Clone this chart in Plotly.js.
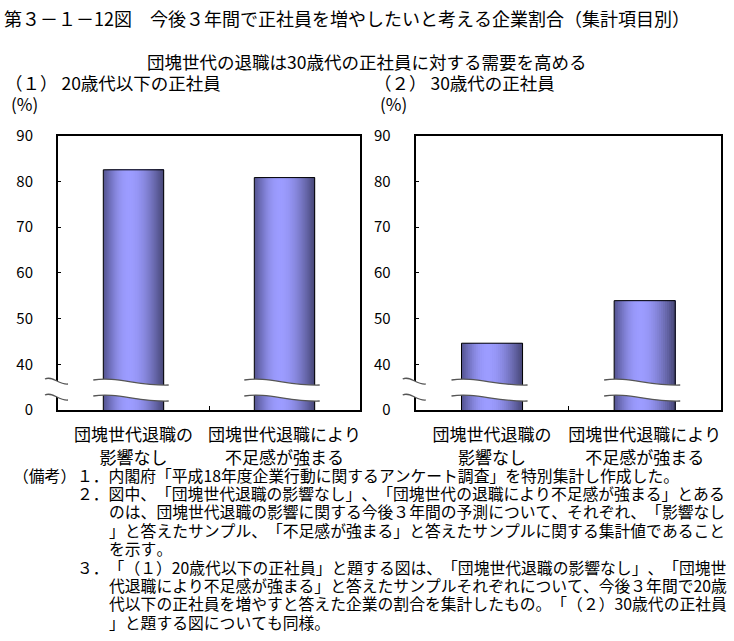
<!DOCTYPE html>
<html>
<head>
<meta charset="utf-8">
<script src="https://cdn.plot.ly/plotly-3.0.1.min.js"></script>
<style>
  html, body { margin: 0; padding: 0; background: #fff; }
  #chart { width: 734px; height: 641px; }
  svg, text, tspan { text-spacing-trim: space-all; font-kerning: none; }
</style>
</head>
<body>
<div id="chart"></div>
<script>
// ---- data ----
const categories = ['団塊世代退職の<br>影響なし', '団塊世代退職により<br>不足感が強まる'];
const under20Values = [82.5, 80.8];   // (1) 20歳代以下の正社員
const age30sValues = [44.6, 53.9];    // (2) 30歳代の正社員
const yTickValues = [30, 40, 50, 60, 70, 80, 90];
const yTickLabels = ['0', '40', '50', '60', '70', '80', '90'];

const chartTitle = '第３－１－12図　今後３年間で正社員を増やしたいと考える企業割合（集計項目別）';
const subTitle = '団塊世代の退職は30歳代の正社員に対する需要を高める';
const panel1Title = '（１） 20歳代以下の正社員';
const panel2Title = '（２） 30歳代の正社員';
const unitLabel = '(%)';
const notesHead = '（備考）';
const notes = [
  '１．内閣府「平成18年度企業行動に関するアンケート調査」を特別集計し作成した。',
  '２．図中、「団塊世代退職の影響なし」、「団塊世代の退職により不足感が強まる」とある',
  'のは、団塊世代退職の影響に関する今後３年間の予測について、それぞれ、「影響なし',
  '」と答えたサンプル、「不足感が強まる」と答えたサンプルに関する集計値であること',
  'を示す。',
  '３．「（１）20歳代以下の正社員」と題する図は、「団塊世代退職の影響なし」、「団塊世',
  '代退職により不足感が強まる」と答えたサンプルそれぞれについて、今後３年間で20歳',
  '代以下の正社員を増やすと答えた企業の割合を集計したもの。「（２）30歳代の正社員',
  '」と題する図についても同様。'
];
const noteIndent = [76, 76, 108, 108, 108, 76, 108, 108, 108];

// ---- layout geometry (pixels) ----
const W = 734, H = 641;
const FONT = '"Noto Sans CJK JP", "Noto Sans", sans-serif';
const plotTop = 135.5, plotBottom = 410;
const panels = [
  { left: 58, right: 360, values: under20Values, xa: 'x', ya: 'y' },
  { left: 415.7, right: 721, values: age30sValues, xa: 'x2', ya: 'y2' }
];
const barWidth = 0.4;
const N = 30;

function px(x) { return x / W; }
function py(y) { return 1 - y / H; }

function mix(a, b, s) {
  return 'rgb(' + a.map((v, i) => Math.round(v + (b[i] - v) * s)).join(',') + ')';
}
function shade(t) {
  const peak = 0.42;
  const light = [156, 156, 255];
  if (t < peak) {
    const s = Math.sin((t / peak) * Math.PI / 2);
    return mix([82, 82, 142], light, s);
  } else {
    const s = Math.sin(((1 - t) / (1 - peak)) * Math.PI / 2);
    return mix([70, 70, 118], light, s);
  }
}

const traces = [];
panels.forEach(p => {
  for (let i = 0; i < N; i++) {
    traces.push({
      type: 'bar', x: categories, y: p.values, xaxis: p.xa, yaxis: p.ya,
      width: barWidth * (1 - i / N), offset: -barWidth / 2 + i * barWidth / N,
      marker: { color: shade((i + 0.5) / N), line: { width: 0 } },
      hoverinfo: 'skip', showlegend: false
    });
  }
  traces.push({
    type: 'bar', x: categories, y: p.values, xaxis: p.xa, yaxis: p.ya,
    width: barWidth, offset: -barWidth / 2,
    marker: { color: 'rgba(0,0,0,0)', line: { width: 1, color: '#000' } },
    hoverinfo: 'skip', showlegend: false
  });
});

// ---- break marks (decoration) ----
function wave(x0, x1, yA, yB) {
  const w = x1 - x0;
  return { M: [x0, yA], C: [[x0 + 0.3 * w, yA - 4], [x0 + 0.6 * w, yB + 1], [x1, yB]] };
}
function waveStr(wv) {
  const c = wv.C;
  return 'M ' + px(wv.M[0]) + ',' + py(wv.M[1]) +
    ' C ' + c.map(q => px(q[0]) + ',' + py(q[1])).join(' ');
}
function waveRev(wv) {
  const c = wv.C;
  return 'L ' + px(c[2][0]) + ',' + py(c[2][1]) + ' C ' +
    [c[1], c[0], wv.M].map(q => px(q[0]) + ',' + py(q[1])).join(' ');
}
const shapes = [];
function breakMark(x0, x1, yTopL, yTopR, gap) {
  const up = wave(x0, x1, yTopL, yTopR);
  const lo = wave(x0, x1, yTopL + gap, yTopR + gap);
  shapes.push({
    type: 'path', xref: 'paper', yref: 'paper', layer: 'above',
    path: waveStr(up) + ' ' + waveRev(lo) + ' Z',
    fillcolor: '#ffffff', line: { width: 0 }
  });
  [up, lo].forEach(wv => shapes.push({
    type: 'path', xref: 'paper', yref: 'paper', layer: 'above',
    path: waveStr(wv), line: { color: '#555', width: 1.3 }
  }));
}
panels.forEach(p => {
  const w = p.right - p.left;
  breakMark(p.left - 13, p.left + 10, 379, 384, 16);
  categories.forEach((c, i) => {
    const cx = p.left + (i + 0.5) * w / 2;
    const hw = barWidth * w / 4;
    breakMark(cx - hw - 10, cx + hw + 5, 380, 385, 16);
  });
});

// ---- annotations ----
const annotations = [];
function txt(text, x, y, size, anchor) {
  annotations.push({
    text: text, xref: 'paper', yref: 'paper', x: px(x), y: py(y),
    xanchor: anchor || 'left', yanchor: 'middle', align: anchor || 'left',
    showarrow: false, borderpad: 0,
    font: { family: FONT, size: size, color: '#000' }
  });
}
txt(chartTitle, 3, 18, 18);
txt(subTitle, 366, 61, 17.5, 'center');
txt(panel1Title, 4, 82, 17.5);
txt(panel2Title, 373, 82, 17.5);
txt(unitLabel, 10, 104, 17);
txt(unitLabel, 379, 104, 17);
txt(notesHead, 12, 475, 15.8);
notes.forEach((n, i) => txt(n, noteIndent[i], 475 + i * 18.4, 15.8));

function xAxis(p) {
  return {
    domain: [px(p.left), px(p.right)], anchor: p.ya,
    showline: true, mirror: true, linecolor: '#000', linewidth: 2,
    ticks: 'inside', tickson: 'boundaries', ticklen: 4, tickcolor: '#000',
    tickangle: 0,
    tickfont: { family: FONT, size: 17, color: '#000' },
    ticklabelstandoff: 9, showgrid: false, zeroline: false, fixedrange: true
  };
}
function yAxis(p) {
  return {
    domain: [py(plotBottom), py(plotTop)], anchor: p.xa, range: [30, 90],
    tickmode: 'array', tickvals: yTickValues, ticktext: yTickLabels,
    showline: true, mirror: true, linecolor: '#000', linewidth: 2,
    ticks: 'inside', ticklen: 3, tickcolor: '#000',
    tickfont: { family: FONT, size: 15, color: '#000' },
    ticklabelstandoff: 20, showgrid: false, zeroline: false, fixedrange: true
  };
}

const layout = {
  width: W, height: H,
  margin: { l: 0, r: 0, t: 0, b: 0 },
  paper_bgcolor: '#fff', plot_bgcolor: '#fff',
  barmode: 'overlay', showlegend: false,
  xaxis: xAxis(panels[0]), yaxis: yAxis(panels[0]),
  xaxis2: xAxis(panels[1]), yaxis2: yAxis(panels[1]),
  shapes: shapes, annotations: annotations,
  font: { family: FONT, color: '#000' }
};

Plotly.newPlot('chart', traces, layout, { displayModeBar: false, staticPlot: true });
</script>
</body>
</html>
